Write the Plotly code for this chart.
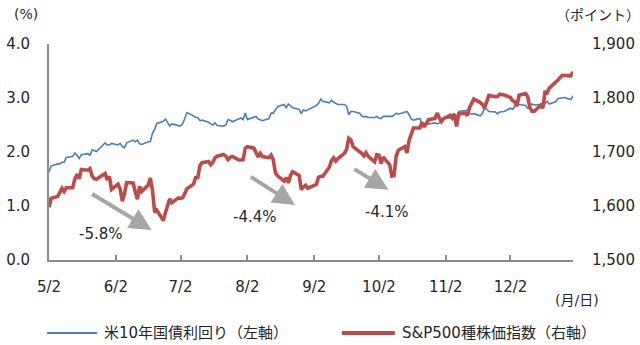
import plotly.graph_objects as go
import pandas as pd

# ---------------- data (2013) ----------------
sp_dates = [
    "5/2","5/3","5/6","5/7","5/8","5/9","5/10","5/13","5/14","5/15","5/16","5/17","5/20","5/21","5/22","5/23","5/24","5/28","5/29","5/30","5/31",
    "6/3","6/4","6/5","6/6","6/7","6/10","6/11","6/12","6/13","6/14","6/17","6/18","6/19","6/20","6/21","6/24","6/25","6/26","6/27","6/28",
    "7/1","7/2","7/3","7/5","7/8","7/9","7/10","7/11","7/12","7/15","7/16","7/17","7/18","7/19","7/22","7/23","7/24","7/25","7/26","7/29","7/30","7/31",
    "8/1","8/2","8/5","8/6","8/7","8/8","8/9","8/12","8/13","8/14","8/15","8/16","8/19","8/20","8/21","8/22","8/23","8/26","8/27","8/28","8/29","8/30",
    "9/3","9/4","9/5","9/6","9/9","9/10","9/11","9/12","9/13","9/16","9/17","9/18","9/19","9/20","9/23","9/24","9/25","9/26","9/27","9/30",
    "10/1","10/2","10/3","10/4","10/7","10/8","10/9","10/10","10/11","10/14","10/15","10/16","10/17","10/18","10/21","10/22","10/23","10/24","10/25","10/28","10/29","10/30","10/31",
    "11/1","11/4","11/5","11/6","11/7","11/8","11/11","11/12","11/13","11/14","11/15","11/18","11/19","11/20","11/21","11/22","11/25","11/26","11/27","11/29",
    "12/2","12/3","12/4","12/5","12/6","12/9","12/10","12/11","12/12","12/13","12/16","12/17","12/18","12/19","12/20","12/23","12/24","12/26","12/27","12/30","12/31",
]
sp_values = [
    1597.6,1614.4,1617.5,1626.0,1632.7,1626.7,1633.7,1633.8,1650.3,1658.8,1650.5,1667.5,1666.3,1669.2,1655.4,1650.5,1649.6,1660.1,1648.4,1654.4,1630.7,
    1640.4,1631.4,1608.9,1622.6,1643.4,1642.8,1626.1,1612.5,1636.4,1626.7,1639.0,1651.8,1628.9,1588.2,1592.4,1573.1,1588.0,1603.3,1613.2,1606.3,
    1615.0,1614.1,1615.4,1631.9,1640.5,1652.3,1652.6,1675.0,1680.2,1682.5,1676.3,1680.9,1689.4,1692.1,1695.5,1692.4,1685.9,1690.3,1691.7,1685.3,1686.0,1685.7,
    1706.9,1709.7,1707.1,1697.4,1690.9,1697.5,1691.4,1689.5,1694.2,1685.4,1661.3,1655.8,1646.1,1652.4,1642.8,1657.0,1663.5,1656.8,1630.5,1635.0,1638.2,1633.0,
    1639.8,1653.1,1655.1,1655.2,1671.7,1684.0,1689.1,1683.4,1688.0,1697.6,1704.8,1725.5,1722.3,1709.9,1701.8,1697.4,1692.8,1698.7,1691.8,1681.6,
    1695.0,1693.9,1678.7,1690.5,1676.1,1655.5,1656.4,1692.6,1703.2,1710.1,1698.1,1721.5,1733.2,1744.5,1744.7,1754.7,1746.4,1752.1,1759.8,1762.1,1772.0,1763.3,1756.5,
    1761.6,1767.9,1763.0,1770.5,1747.2,1770.6,1771.9,1767.7,1782.0,1790.6,1798.2,1791.5,1787.9,1781.4,1795.9,1804.8,1802.5,1802.8,1807.2,1805.8,
    1800.9,1795.2,1792.8,1785.0,1805.1,1808.4,1802.6,1782.2,1775.5,1775.3,1786.5,1781.0,1810.7,1809.6,1818.3,1828.0,1833.3,1842.0,1841.4,1841.1,1848.4,
]
ust_dates = [
    "5/2","5/3","5/6","5/7","5/8","5/9","5/10","5/13","5/14","5/15","5/16","5/17","5/20","5/21","5/22","5/23","5/24","5/28","5/29","5/30","5/31",
    "6/3","6/4","6/5","6/6","6/7","6/10","6/11","6/12","6/13","6/14","6/17","6/18","6/19","6/20","6/21","6/24","6/25","6/26","6/27","6/28",
    "7/1","7/2","7/3","7/5","7/8","7/9","7/10","7/11","7/12","7/15","7/16","7/17","7/18","7/19","7/22","7/23","7/24","7/25","7/26","7/29","7/30","7/31",
    "8/1","8/2","8/5","8/6","8/7","8/8","8/9","8/12","8/13","8/14","8/15","8/16","8/19","8/20","8/21","8/22","8/23","8/26","8/27","8/28","8/29","8/30",
    "9/3","9/4","9/5","9/6","9/9","9/10","9/11","9/12","9/13","9/16","9/17","9/18","9/19","9/20","9/23","9/24","9/25","9/26","9/27","9/30",
    "10/1","10/2","10/3","10/4","10/7","10/8","10/9","10/10","10/11","10/15","10/16","10/17","10/18","10/21","10/22","10/23","10/24","10/25","10/28","10/29","10/30","10/31",
    "11/1","11/4","11/5","11/6","11/7","11/8","11/12","11/13","11/14","11/15","11/18","11/19","11/20","11/21","11/22","11/25","11/26","11/27","11/29",
    "12/2","12/3","12/4","12/5","12/6","12/9","12/10","12/11","12/12","12/13","12/16","12/17","12/18","12/19","12/20","12/23","12/24","12/26","12/27","12/30","12/31",
]
ust_values = [
    1.63,1.74,1.78,1.78,1.81,1.81,1.90,1.92,1.98,1.94,1.88,1.95,1.97,1.94,2.04,2.02,2.01,2.17,2.13,2.13,2.16,
    2.13,2.16,2.10,2.08,2.17,2.22,2.19,2.22,2.15,2.14,2.19,2.19,2.35,2.42,2.53,2.57,2.61,2.54,2.48,2.52,
    2.50,2.48,2.52,2.73,2.67,2.64,2.64,2.58,2.59,2.55,2.52,2.50,2.54,2.49,2.48,2.50,2.60,2.59,2.56,2.61,2.63,2.60,
    2.72,2.60,2.64,2.66,2.61,2.59,2.58,2.62,2.72,2.72,2.77,2.84,2.88,2.82,2.89,2.86,2.82,2.79,2.71,2.78,2.76,2.78,
    2.86,2.90,2.98,2.94,2.91,2.96,2.92,2.90,2.88,2.88,2.85,2.69,2.75,2.75,2.72,2.67,2.65,2.66,2.64,2.64,
    2.66,2.63,2.62,2.66,2.65,2.66,2.68,2.72,2.70,2.75,2.69,2.61,2.59,2.62,2.52,2.51,2.52,2.52,2.54,2.52,2.54,2.57,
    2.62,2.63,2.69,2.64,2.61,2.75,2.77,2.72,2.70,2.71,2.67,2.71,2.81,2.79,2.75,2.74,2.71,2.74,2.75,
    2.81,2.79,2.84,2.88,2.88,2.86,2.81,2.85,2.89,2.87,2.88,2.84,2.89,2.94,2.89,2.93,2.99,3.00,3.01,2.97,3.04,
]
tick_labels = ["5/2", "6/2", "7/2", "8/2", "9/2", "10/2", "11/2", "12/2"]
drop_labels = ["-5.8%", "-4.4%", "-4.1%"]
series_names = ["米10年国債利回り（左軸）", "S&P500種株価指数（右軸）"]
series_colors = ["#4A7EBB", "#BE4B48"]
series_widths = [1.6, 3.6]

YEAR = "2013/"
def to_dt(lst):
    return pd.to_datetime([YEAR + d for d in lst], format="%Y/%m/%d")

sp_x = to_dt(sp_dates)
ust_x = to_dt(ust_dates)
tick_x = to_dt(tick_labels)
base = pd.Timestamp("2013-05-02")

FONT = "'DejaVu Sans', 'Noto Sans CJK JP', sans-serif"
TXT = "#262626"
AXC = "#8C8C8C"
ARC = "#A6A6A6"

fig = go.Figure()
fig.add_trace(go.Scatter(x=ust_x, y=ust_values, mode="lines", name=series_names[0],
                         line=dict(color=series_colors[0], width=series_widths[0]), yaxis="y"))
fig.add_trace(go.Scatter(x=sp_x, y=sp_values, mode="lines", name=series_names[1],
                         line=dict(color=series_colors[1], width=series_widths[1]), yaxis="y2"))

# arrows (tail day, tail y, tip day, tip y) and labels (day, y)
arrows = [(19.3, 1.24, 47.6, 0.556), (92.9, 1.556, 114.1, 1.019), (140.9, 1.70, 157.4, 1.30)]
labels = [(24.1, 0.48), (95.5, 0.80), (156.8, 0.89)]
ann = []
for (td, ty, hd, hy) in arrows:
    ann.append(dict(x=base + pd.Timedelta(days=hd), y=hy, xref="x", yref="y",
                    ax=base + pd.Timedelta(days=td), ay=ty, axref="x", ayref="y",
                    text="", showarrow=True, arrowhead=2, arrowsize=1.1, arrowwidth=4,
                    arrowcolor=ARC, standoff=0))
for (d, yv), t in zip(labels, drop_labels):
    ann.append(dict(x=base + pd.Timedelta(days=d), y=yv, xref="x", yref="y", text=t,
                    xanchor="center", yanchor="middle",
                    showarrow=False, font=dict(size=15, color=TXT, family=FONT)))
for (px, py, t) in [(-0.044, 1.139, "(%)"), (1.047, 1.135, "（ポイント）"), (1.008, -0.185, "(月/日)")]:
    ann.append(dict(x=px, y=py, xref="paper", yref="paper", text=t, showarrow=False,
                    xanchor="center", yanchor="middle", font=dict(size=14, color=TXT, family=FONT)))

# hand-drawn legend below the plot
shapes = []
leg_line = [(-0.004, 0.092), (0.559, 0.660)]
leg_text_x = [0.101, 0.670]
LEG_Y = -0.338
for i in range(2):
    shapes.append(dict(type="line", xref="paper", yref="paper", x0=leg_line[i][0], x1=leg_line[i][1],
                       y0=LEG_Y, y1=LEG_Y, line=dict(color=series_colors[i], width=series_widths[i] + 0.4)))
    ann.append(dict(x=leg_text_x[i], y=LEG_Y, xref="paper", yref="paper", xanchor="left", yanchor="middle",
                    text=series_names[i], showarrow=False, font=dict(size=15, color=TXT, family=FONT)))

fig.update_layout(
    width=640, height=345,
    margin=dict(l=49, r=67, t=44, b=85, autoexpand=False),
    paper_bgcolor="white", plot_bgcolor="white",
    font=dict(family=FONT, size=15, color=TXT),
    showlegend=False,
    xaxis=dict(type="date", range=[base, pd.Timestamp("2013-12-31")],
               tickvals=tick_x, ticktext=tick_labels, ticks="inside", ticklen=5, tickwidth=2,
               tickcolor=AXC, showline=True, linecolor=AXC, linewidth=2, showgrid=False,
               zeroline=False, ticklabelstandoff=12),
    yaxis=dict(range=[0, 4], dtick=1, tickformat=".1f", showline=True, linecolor=AXC, linewidth=2,
               showgrid=False, zeroline=False, ticks="", ticklabelstandoff=14),
    yaxis2=dict(range=[1500, 1900], dtick=100, tickformat=",d", overlaying="y", side="right",
                showline=False, showgrid=False, zeroline=False, ticks="", ticklabelstandoff=18),
    annotations=ann,
    shapes=shapes,
)

fig.write_html("out.html")
